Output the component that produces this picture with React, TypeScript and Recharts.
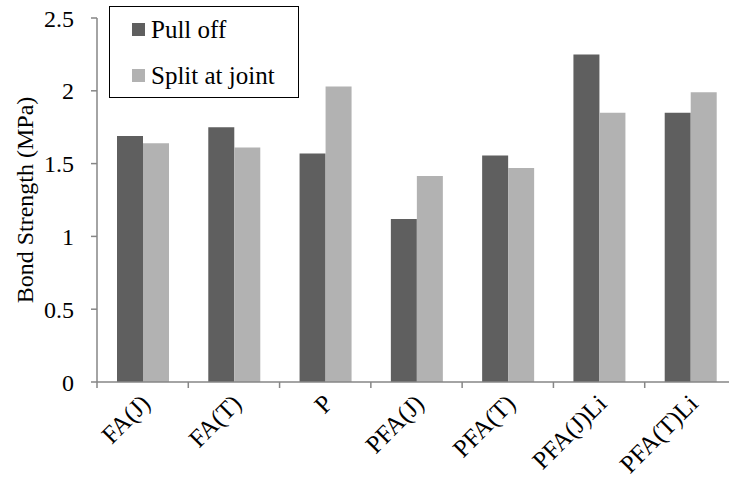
import { BarChart, Bar, XAxis, YAxis, Legend } from "recharts";

const categories = ["FA(J)", "FA(T)", "P", "PFA(J)", "PFA(T)", "PFA(J)Li", "PFA(T)Li"];
const pullOff = [1.69, 1.75, 1.57, 1.12, 1.555, 2.25, 1.85];
const splitAtJoint = [1.64, 1.61, 2.03, 1.415, 1.47, 1.85, 1.99];
const yTicks = [0, 0.5, 1, 1.5, 2, 2.5];

const data = categories.map((name, i) => ({ name, pull: pullOff[i], split: splitAtJoint[i] }));

const FONT = "'Liberation Serif', 'Times New Roman', serif";
const DARK = "#5f5f5f";
const LIGHT = "#b2b2b2";
const AXIS = "#868686";

const CHART_W = 736;
const Y_W = 97;
const BAND = (CHART_W - Y_W) / categories.length;

function XTick(props: any) {
  const { x, y, payload } = props;
  return (
    <g>
      <line x1={x - BAND / 2} x2={x - BAND / 2} y1={y - 6} y2={y} stroke={AXIS} strokeWidth={1.5} />
      <text
        x={0}
        y={0}
        transform={`translate(${x + 9},${y + 17}) rotate(-45)`}
        textAnchor="end"
        fontFamily={FONT}
        fontSize={25}
        fill="#000"
      >
        {payload.value}
      </text>
    </g>
  );
}

function renderLegend(props: any) {
  const items = props.payload || [];
  return (
    <div
      style={{
        position: "relative",
        width: 190,
        height: 92,
        border: "1.5px solid #000",
        boxSizing: "border-box",
        background: "#fff",
        fontFamily: FONT,
        fontSize: 25,
        color: "#000",
      }}
    >
      {items.map((it: any, i: number) => (
        <div key={i} style={{ position: "absolute", left: 0, top: 10 + i * 46, height: 25, lineHeight: "25px", whiteSpace: "nowrap" }}>
          <span style={{ position: "absolute", left: 22, top: 6, width: 13, height: 13, background: it.color }} />
          <span style={{ position: "absolute", left: 41, top: 0 }}>{it.value}</span>
        </div>
      ))}
    </div>
  );
}

export default function App() {
  return (
    <div style={{ position: "absolute", left: 0, top: 0, width: 729, height: 485, overflow: "hidden", background: "#fff" }}>
      <BarChart
        width={CHART_W}
        height={485}
        data={data}
        margin={{ top: 18, right: 0, left: 0, bottom: 0 }}
        barCategoryGap={20}
        barGap={0}
      >
        <text
          x={0}
          y={0}
          transform="translate(33,200) rotate(-90)"
          textAnchor="middle"
          fontFamily={FONT}
          fontSize={24}
          fill="#000"
        >
          Bond Strength (MPa)
        </text>
        <YAxis
          width={Y_W}
          domain={[0, 2.5]}
          ticks={yTicks}
          interval={0}
          stroke={AXIS}
          strokeWidth={1.5}
          tickSize={6}
          tickMargin={17}
          tick={{ fontFamily: FONT, fontSize: 24, fill: "#000" }}
        />
        <XAxis
          dataKey="name"
          height={103}
          interval={0}
          stroke={AXIS}
          strokeWidth={1.5}
          tickLine={false}
          tickSize={6}
          tickMargin={0}
          tick={<XTick />}
        />
        <Legend
          layout="vertical"
          align="center"
          verticalAlign="middle"
          content={renderLegend}
          wrapperStyle={{ position: "absolute", left: 109, top: 6, width: 190, height: 92 }}
        />
        <Bar dataKey="pull" name="Pull off" fill={DARK} isAnimationActive={false} />
        <Bar dataKey="split" name="Split at joint" fill={LIGHT} isAnimationActive={false} />
      </BarChart>
    </div>
  );
}
